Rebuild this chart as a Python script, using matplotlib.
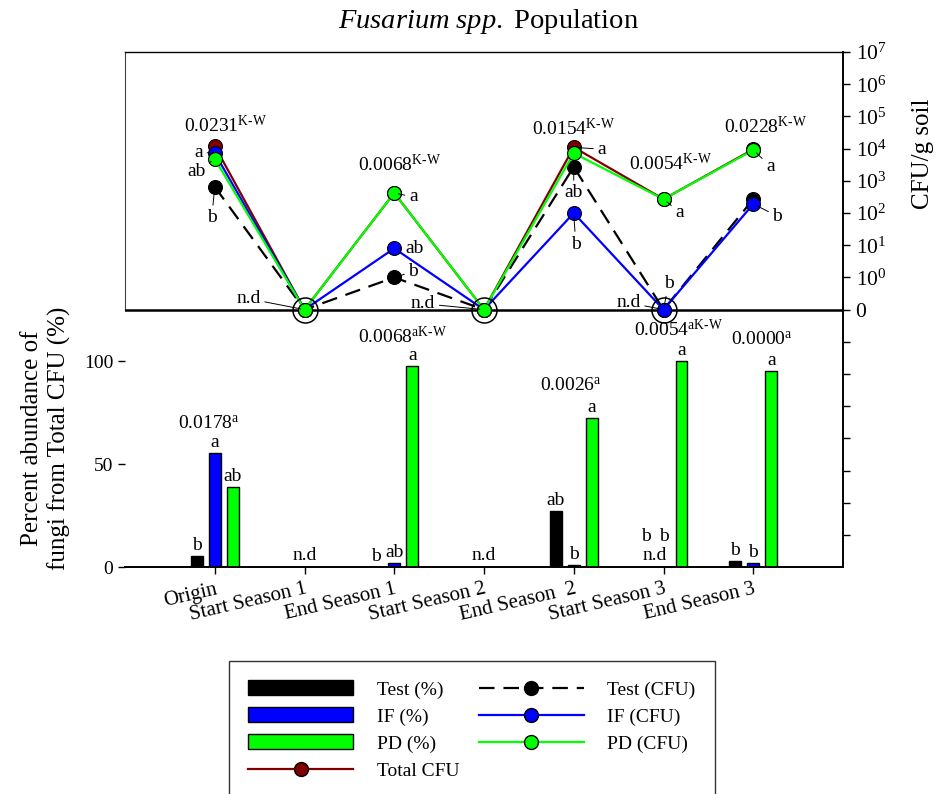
import numpy as np
import matplotlib.pyplot as plt
from matplotlib.patches import Patch
from matplotlib.lines import Line2D

plt.rcParams['font.family'] = ['Liberation Serif', 'DejaVu Serif']
plt.rcParams['mathtext.fontset'] = 'custom'
plt.rcParams['mathtext.rm'] = 'Liberation Serif'
plt.rcParams['mathtext.it'] = 'Liberation Serif:italic'
plt.rcParams['mathtext.bf'] = 'Liberation Serif:bold'

# muestreos
muestreos = ['Origin', 'Start Season 1', 'End Season 1', 'Start Season 2',
             'End Season  2', 'Start Season 3', 'End Season 3']

# porcentaje sobre el total de UFC (barras)
test_pct = [5.5, 0, 0, 0, 27.3, 0, 3.0]
if_pct = [55.5, 0, 1.9, 0, 1.1, 0, 2.2]
pd_pct = [38.8, 0, 97.7, 0, 72.2, 100, 95.3]

# UFC/g suelo (lineas), 0 = no detectado
total_cfu = [12000, 0, 420, 0, 11000, 270, 9500]
test_cfu = [650, 0, 1.0, 0, 2700, 0, 270]
if_cfu = [7200, 0, 8, 0, 100, 0, 190]
pd_cfu = [4800, 0, 420, 0, 7200, 270, 9000]

# letras de las barras
test_let = ['b', '', 'b', '', 'ab', 'b', 'b']
if_let = ['a', '', 'ab', '', 'b', 'b', 'b']
pd_let = ['ab', '', 'a', '', 'a', 'a', 'a']

# p valores
p_cfu = {0: '0.0231', 2: '0.0068', 4: '0.0154', 5: '0.0054', 6: '0.0228'}
p_pct = {0: ('0.0178', 'a'), 2: ('0.0068', 'aK-W'), 4: ('0.0026', 'a'),
         5: ('0.0054', 'aK-W'), 6: ('0.0000', 'a')}

W, H = 939, 794
fig = plt.figure(figsize=(W / 100, H / 100), dpi=100)
ax = fig.add_axes([125 / W, 1 - 567.3 / H, (843 - 125) / W, (567.3 - 52) / H])
ax2 = ax.twinx()

x = np.arange(len(muestreos))
fs = 14

# ---- barras ----
bw = 0.13
ax.bar(x - 0.2, test_pct, bw, color='black', edgecolor='black', lw=1)
ax.bar(x, if_pct, bw, color='#0000ff', edgecolor='black', lw=1)
ax.bar(x + 0.2, pd_pct, bw, color='#00ff00', edgecolor='black', lw=1)
ax.set_xlim(-1, 7)
ax.set_ylim(0, 250)
ax.set_yticks([0, 50, 100])
ax.set_xticks(x)
ax.set_xticklabels(muestreos, rotation=13, ha='right', va='top',
                   rotation_mode='anchor', fontsize=15)
ax.tick_params(axis='x', direction='out', length=5, width=1, pad=4)
ax.tick_params(axis='y', direction='out', length=5, width=1, labelsize=fs)
ax.spines['right'].set_visible(False)
ax.spines['left'].set_bounds(125, 250)
ax.spines['left'].set_linewidth(0.8)
ax.spines['left'].set_color('#444444')
ax.spines['top'].set_linewidth(1.0)
ax.spines['bottom'].set_linewidth(1.4)

for serie, let, off, k in [(test_pct, test_let, -0.2, 0), (if_pct, if_let, 0, 1),
                           (pd_pct, pd_let, 0.2, 2)]:
    for i in range(len(x)):
        if let[i]:
            # en Start Season 3 las letras quedan encima de "n.d"
            extra = 20 if (i == 5 and k < 2) else 0
            ax.annotate(let[i], (x[i] + off, serie[i]), xytext=(0, 2 + extra),
                        textcoords='offset pixels', ha='center', va='bottom', fontsize=fs)

for i in range(len(x)):
    if test_pct[i] == 0 and if_pct[i] == 0:
        ax.annotate('n.d', (x[i] - 0.1 if i == 5 else x[i], 0), xytext=(0, 3),
                    textcoords='offset pixels', ha='center', va='bottom', fontsize=fs)

pct_off = {0: (-6, 24), 2: (8, 23), 4: (-3, 28), 5: (15, 25), 6: (9, 26)}
for i, (pv, sup) in p_pct.items():
    top = max(test_pct[i], if_pct[i], pd_pct[i])
    dx, dy = pct_off[i]
    sup_txt = r'\rm a' if sup == 'a' else r'\rm aK\text{-}W'
    ax.annotate(pv + '$^{' + sup_txt + '}$', (x[i], top), xytext=(dx, dy),
                textcoords='offset pixels', ha='center', va='baseline', fontsize=fs)

# ---- lineas (UFC) ----
def pos(v):
    v = np.array(v, dtype=float)
    return np.where(v == 0, 0.1, v)

ax2.set_yscale('log')
ax2.set_ylim(1e-9, 1e7)
ax2.axhline(0.1, color='black', lw=1.8, zorder=1)

estilo = dict(marker='o', ms=10, mec='black', mew=0.8, lw=1.6)
ax2.plot(x, pos(total_cfu), color='#800000', mfc='#800000', zorder=3, **estilo)
ax2.plot(x, pos(test_cfu), color='black', mfc='black', ls=(0, (7, 4)), zorder=4, **estilo)
ax2.plot(x, pos(if_cfu), color='#0000ff', mfc='#0000ff', zorder=5, **estilo)
ax2.plot(x, pos(pd_cfu), color='#00ff00', mfc='#00ff00', zorder=6, **estilo)

todos = np.array([total_cfu, test_cfu, if_cfu, pd_cfu])
nd = x[todos.min(axis=0) == 0]
ax2.plot(nd, np.full(len(nd), 0.1), 'o', ms=18, mfc='none', mec='black', mew=1.1, zorder=7)

ticks = 10.0 ** np.arange(-8, 8)
labs = []
for k in range(-8, 8):
    if k >= 0:
        labs.append('$10^{%d}$' % k)
    elif k == -1:
        labs.append('0')
    else:
        labs.append('')
ax2.set_yticks(ticks)
ax2.set_yticklabels(labs)
ax2.minorticks_off()
ax2.tick_params(axis='y', direction='out', length=5, width=1, labelsize=15.5, pad=4)
for s in ['left', 'top', 'bottom']:
    ax2.spines[s].set_visible(False)
ax2.spines['right'].set_linewidth(1.4)

lineas = {'total': total_cfu, 'test': test_cfu, 'if': if_cfu, 'pd': pd_cfu}
letras = [
    (0, 'if', 'a', -16, 1), (0, 'pd', 'ab', -18, -13), (0, 'test', 'b', -3, -31),
    (1, 'test', 'n.d', -56, 11),
    (2, 'pd', 'a', 19, -4), (2, 'if', 'ab', 20, 0), (2, 'test', 'b', 19, 6),
    (3, 'test', 'n.d', -61, 6),
    (4, 'total', 'a', 28, -2), (4, 'test', 'ab', 0, -26), (4, 'if', 'b', 2, -31),
    (5, 'pd', 'a', 16, -13), (5, 'if', 'b', 5, 26), (5, 'if', 'n.d', -35, 7),
    (6, 'pd', 'a', 17, -16), (6, 'if', 'b', 24, -12),
]
for i, serie, txt, dx, dy in letras:
    ax2.annotate(txt, (x[i], pos(lineas[serie])[i]), xytext=(dx, dy),
                 textcoords='offset pixels', ha='center', va='center', fontsize=fs,
                 arrowprops=dict(arrowstyle='-', lw=0.7, color='black',
                                 shrinkA=1, shrinkB=3), zorder=8)

cfu_off = {0: (11, 14), 2: (5, 22), 4: (0, 12), 5: (7, 29), 6: (12, 16)}
for i, pv in p_cfu.items():
    top = max(total_cfu[i], test_cfu[i], if_cfu[i], pd_cfu[i])
    dx, dy = cfu_off[i]
    ax2.annotate(pv + r'$^{\rm K\text{-}W}$', (x[i], top), xytext=(dx, dy),
                 textcoords='offset pixels', ha='center', va='baseline', fontsize=fs)

# ---- textos ----
fig.text(488 / W, 1 - 22 / H, r'$\it{Fusarium\ spp.}$ Population',
         ha='center', va='center', fontsize=20.5)
fig.text(46 / W, 1 - 438 / H, 'Percent abundance of\nfungi from Total CFU (%)',
         rotation=90, ha='center', va='center', multialignment='center', fontsize=18)
fig.text(923 / W, 1 - 154 / H, 'CFU/g soil', rotation=90, ha='center', va='center', fontsize=18)

# ---- leyenda ----
handles = [
    Patch(facecolor='black', edgecolor='black'),
    Patch(facecolor='#0000ff', edgecolor='black'),
    Patch(facecolor='#00ff00', edgecolor='black'),
    Line2D([], [], color='#800000', marker='o', ms=10, mfc='#800000', mec='black', lw=1.6),
    Line2D([], [], color='black', marker='o', ms=10, mfc='black', mec='black', lw=1.6, ls=(0, (7, 4))),
    Line2D([], [], color='#0000ff', marker='o', ms=10, mfc='#0000ff', mec='black', lw=1.6),
    Line2D([], [], color='#00ff00', marker='o', ms=10, mfc='#00ff00', mec='black', lw=1.6),
]
labels = ['Test (%)', 'IF (%)', 'PD (%)', 'Total CFU', 'Test (CFU)', 'IF (CFU)', 'PD (CFU)']
leg = fig.legend(handles, labels, ncol=2, loc='upper left',
                 bbox_to_anchor=(229 / W, 1 - 661 / H), borderaxespad=0,
                 fontsize=fs, frameon=True, fancybox=False, edgecolor='black',
                 handlelength=5.4, handleheight=0.8, handletextpad=1.2,
                 columnspacing=1.0, labelspacing=0.45, borderpad=1.0)
leg.get_frame().set_linewidth(1.0)

fig.savefig('out.png', dpi=100)
